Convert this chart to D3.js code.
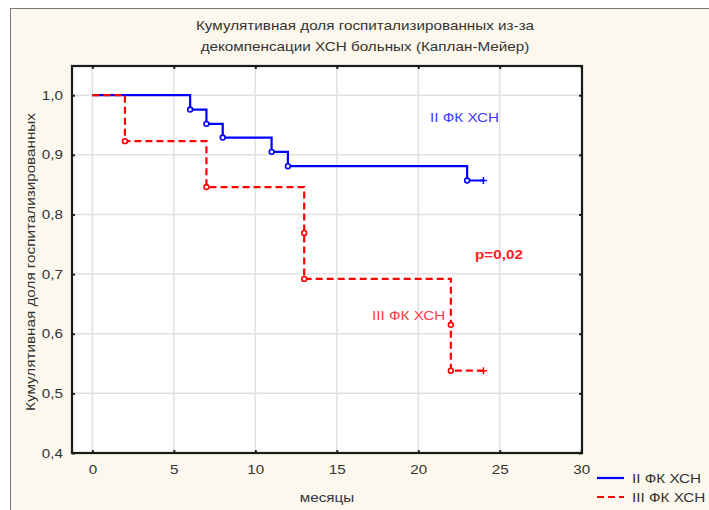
<!DOCTYPE html>
<html>
<head>
<meta charset="utf-8">
<script src="https://cdn.jsdelivr.net/npm/d3@7"></script>
<style>
  html, body { margin: 0; padding: 0; background: #ffffff; }
  svg { display: block; }
  text { font-family: "Liberation Sans", Arial, sans-serif; }
</style>
</head>
<body>
<svg id="chart" width="709" height="510"></svg>
<script>
// Kaplan–Meier curves: time of each step (months) and survival level after it
const groupNames = ["II ФК ХСН", "III ФК ХСН"];
const fc2Times  = [6, 7, 8, 11, 12, 23];
const fc2Levels = [0.976, 0.952, 0.929, 0.905, 0.881, 0.857];
const fc3Times  = [2, 7, 13, 13, 22, 22];
const fc3Levels = [0.923, 0.846, 0.769, 0.692, 0.615, 0.538];
const censorTimes = [24, 24];   // last follow-up, censored
const xTicks = [0, 5, 10, 15, 20, 25, 30];
const yTicks = [0.4, 0.5, 0.6, 0.7, 0.8, 0.9, 1.0];
const titleLines = ["Кумулятивная доля госпитализированных из-за", "декомпенсации ХСН больных (Каплан-Мейер)"];
const pValueText = "p=0,02";
const xAxisTitle = "месяцы";
const yAxisTitle = "Кумулятивная доля госпитализированных";

const svg = d3.select("#chart");
const W = 709, H = 510;
const plot = { left: 72, top: 66, right: 582, bottom: 453 };
const FS = 12.5;      // base font size
const SX = 1.22;      // wide lettering: horizontal stretch along the text

// text with the wide lettering
function label(parent, x, y, str, opts = {}) {
  const rot = opts.rotate ? ` rotate(${opts.rotate})` : "";
  return parent.append("text")
    .attr("transform", `translate(${x},${y})${rot} scale(${SX},1)`)
    .attr("text-anchor", opts.anchor || "start")
    .attr("fill", opts.color || "#333")
    .attr("font-size", opts.size || FS)
    .attr("font-weight", opts.weight || null)
    .text(str);
}

// page panel
svg.append("rect").attr("x", 10.5).attr("y", 8.5).attr("width", W).attr("height", H)
  .attr("fill", "#fdf8ed").attr("stroke", "#7a7a7a").attr("stroke-width", 1);

const x = d3.scaleLinear().domain([-1.25, 30.05]).range([plot.left, plot.right]);
const y = d3.scaleLinear().domain([0.4, 1.049]).range([plot.bottom, plot.top]);

// plot background
svg.append("rect").attr("x", plot.left).attr("y", plot.top)
  .attr("width", plot.right - plot.left).attr("height", plot.bottom - plot.top)
  .attr("fill", "#ffffff");

// grid
const grid = svg.append("g").attr("stroke", "#e2e2e2").attr("stroke-width", 1.5);
xTicks.filter(t => t < 30).forEach(t => {
  grid.append("line").attr("x1", x(t)).attr("x2", x(t)).attr("y1", plot.top).attr("y2", plot.bottom);
});
yTicks.filter(t => t > 0.4).forEach(t => {
  grid.append("line").attr("x1", plot.left).attr("x2", plot.right).attr("y1", y(t)).attr("y2", y(t));
});

// axes (ticks point inward, labels only on left and bottom)
const axisColor = "#222";
const bottomAxis = d3.axisBottom(x).tickValues(xTicks).tickSize(-3).tickPadding(12).tickFormat(d3.format("d"));
const leftAxis = d3.axisLeft(y).tickValues(yTicks).tickSize(-3).tickPadding(9)
  .tickFormat(d => d.toFixed(1).replace(".", ","));
const topAxis = d3.axisTop(x).tickValues(xTicks).tickSize(-3).tickFormat("");
const rightAxis = d3.axisRight(y).tickValues(yTicks).tickSize(-3).tickFormat("");

function styleAxis(g) {
  g.select(".domain").remove();
  g.selectAll(".tick line").attr("stroke", axisColor).attr("stroke-width", 2);
  g.selectAll(".tick text").attr("fill", "#333").attr("font-size", FS)
    .each(function () {
      const t = d3.select(this);
      const tx = +t.attr("x") || 0;
      t.attr("x", 0).attr("transform", `translate(${tx},0) scale(${SX},1)`);
    });
}
svg.append("g").attr("transform", `translate(0,${plot.bottom})`).call(bottomAxis).call(styleAxis);
svg.append("g").attr("transform", `translate(${plot.left},0)`).call(leftAxis).call(styleAxis);
svg.append("g").attr("transform", `translate(0,${plot.top})`).call(topAxis).call(styleAxis);
svg.append("g").attr("transform", `translate(${plot.right},0)`).call(rightAxis).call(styleAxis);

// frame
svg.append("rect").attr("x", plot.left).attr("y", plot.top)
  .attr("width", plot.right - plot.left).attr("height", plot.bottom - plot.top)
  .attr("fill", "none").attr("stroke", "#1a1a1a").attr("stroke-width", 2.2);

// step curves
function stepPoints(times, levels, censorT) {
  const pts = [[0, 1]];
  let cur = 1;
  times.forEach((t, i) => {
    pts.push([t, cur]);
    cur = levels[i];
    pts.push([t, cur]);
  });
  pts.push([censorT, cur]);
  return pts;
}
const line = d3.line().x(d => x(d[0])).y(d => y(d[1]));

const series = [
  { times: fc2Times, levels: fc2Levels, color: "#0000ff", dash: null, censor: censorTimes[0] },
  { times: fc3Times, levels: fc3Levels, color: "#ff0000", dash: "7,4", censor: censorTimes[1] }
];

// blue first, red dashed on top
series.forEach(s => {
  const pts = stepPoints(s.times, s.levels, s.censor);
  svg.append("path").datum(pts).attr("d", line)
    .attr("fill", "none").attr("stroke", s.color).attr("stroke-width", 2.2)
    .attr("stroke-dasharray", s.dash);
  // event markers
  svg.append("g").selectAll("circle").data(s.times.map((t, i) => [t, s.levels[i]]))
    .join("circle").attr("cx", d => x(d[0])).attr("cy", d => y(d[1])).attr("r", 2.4)
    .attr("fill", "#fff").attr("stroke", s.color).attr("stroke-width", 1.6);
  // censored mark
  const last = s.levels[s.levels.length - 1];
  const cx = x(s.censor), cy = y(last);
  svg.append("path").attr("d", `M${cx - 3.5},${cy}H${cx + 3.5}M${cx},${cy - 3.5}V${cy + 3.5}`)
    .attr("stroke", s.color).attr("stroke-width", 1.5);
});

// curve annotations
label(svg, 430, 122, groupNames[0], { color: "#3b3bff" });
label(svg, 372, 320, groupNames[1], { color: "#ff3a4a" });
label(svg, 475, 259, pValueText, { color: "#ff2020", weight: "bold" });

// title
titleLines.forEach((t, i) => label(svg, 365, 30 + i * 20.5, t, { anchor: "middle" }));

// axis titles
label(svg, 327, 502, xAxisTitle, { anchor: "middle" });
label(svg, 35, 262, yAxisTitle, { anchor: "middle", rotate: -90 });

// legend
series.forEach((s, i) => {
  const ly = 478 + i * 19;
  svg.append("line").attr("x1", 597).attr("x2", 624).attr("y1", ly).attr("y2", ly)
    .attr("stroke", s.color).attr("stroke-width", 2.2).attr("stroke-dasharray", s.dash);
  label(svg, 632, ly + 4.5, groupNames[i]);
});
</script>
</body>
</html>
